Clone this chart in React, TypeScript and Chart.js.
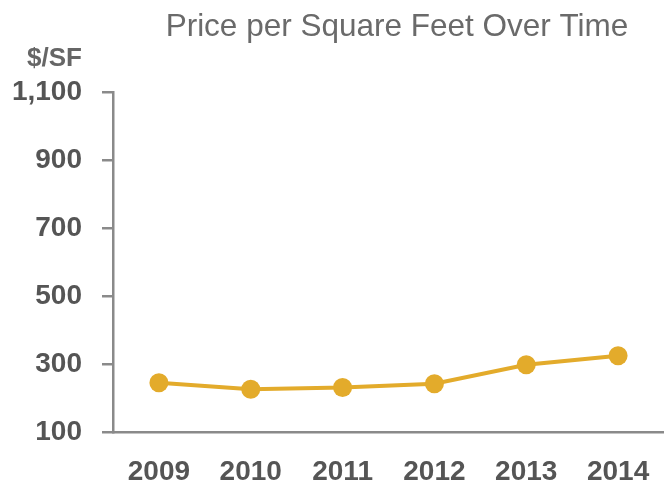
import React, { useEffect, useRef } from "react";
import { Chart, registerables } from "chart.js";

Chart.register(...registerables);

const years = ["2009", "2010", "2011", "2012", "2013", "2014"];
const pricePerSF = [245, 226, 231, 242, 298, 324];
const yMin = 100;
const yMax = 1100;
const yStep = 200;
const titleText = "Price per Square Feet Over Time";
const unitText = "$/SF";

const FONT = '"Liberation Sans", Arial, Helvetica, sans-serif';
const LINE_COLOR = "#E3AB2B";
const AXIS_COLOR = "#8a8a8a";
const TICK_COLOR = "#555555";

const textPlugin = {
  id: "textPlugin",
  afterDraw(chart: any) {
    const ctx = chart.ctx;
    ctx.save();
    ctx.fillStyle = "#6a6a6a";
    ctx.font = `normal 31.5px ${FONT}`;
    ctx.textAlign = "center";
    ctx.textBaseline = "alphabetic";
    ctx.fillText(titleText, 397, 36);
    ctx.fillStyle = "#666666";
    ctx.font = `bold 26px ${FONT}`;
    ctx.textAlign = "right";
    ctx.fillText(unitText, 82, 66);
    ctx.restore();
  },
};

export default function App() {
  const ref = useRef<HTMLCanvasElement>(null);
  useEffect(() => {
    document.body.style.margin = "0";
    const canvas = ref.current!;
    const chart = new Chart(canvas, {
      type: "line",
      data: {
        labels: years,
        datasets: [
          {
            data: pricePerSF,
            borderColor: LINE_COLOR,
            backgroundColor: LINE_COLOR,
            pointBackgroundColor: LINE_COLOR,
            pointBorderColor: LINE_COLOR,
            pointBorderWidth: 0,
            pointRadius: 9.5,
            borderWidth: 4,
            tension: 0,
            fill: false,
            clip: false as any,
          },
        ],
      },
      options: {
        animation: false,
        responsive: false,
        layout: { autoPadding: false, padding: { top: 92, left: 0, right: 0, bottom: 0 } },
        plugins: {
          legend: { display: false },
          title: { display: false },
          tooltip: { enabled: false },
        },
        scales: {
          x: {
            offset: true,
            afterFit: (s: any) => {
              s.height = 53;
              s.paddingLeft = 0;
              s.paddingRight = 0;
            },
            grid: {
              display: true,
              drawOnChartArea: false,
              drawTicks: false,
              color: AXIS_COLOR,
            },
            border: { display: true, color: AXIS_COLOR, width: 2.5 },
            ticks: {
              color: TICK_COLOR,
              padding: 23,
              font: { family: FONT, size: 28, weight: "bold" },
              maxRotation: 0,
            },
          },
          y: {
            min: yMin,
            max: yMax,
            afterFit: (s: any) => {
              s.width = 113;
              s.paddingTop = 0;
              s.paddingBottom = 0;
            },
            grid: {
              display: true,
              drawOnChartArea: false,
              drawTicks: true,
              tickLength: 11,
              color: AXIS_COLOR,
              lineWidth: 2.5,
            },
            border: { display: true, color: AXIS_COLOR, width: 2.5 },
            ticks: {
              stepSize: yStep,
              color: TICK_COLOR,
              padding: 20,
              font: { family: FONT, size: 28, weight: "bold" },
              callback: (v: any) => Number(v).toLocaleString("en-US"),
            },
          },
        },
      },
      plugins: [textPlugin],
    });
    return () => chart.destroy();
  }, []);
  return <canvas ref={ref} width={664} height={485} style={{ display: "block" }} />;
}
